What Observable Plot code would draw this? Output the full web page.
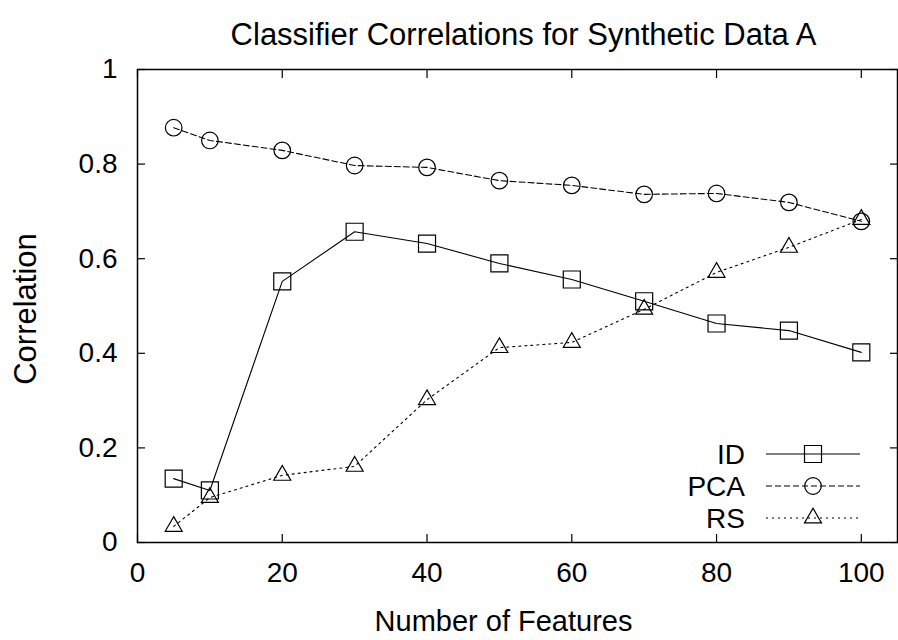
<!DOCTYPE html>
<html>
<head>
<meta charset="utf-8">
<script src="https://cdn.jsdelivr.net/npm/d3@7"></script>
<script src="https://cdn.jsdelivr.net/npm/@observablehq/plot@0.6"></script>
<style>
  body { margin: 0; background: #fff; }
  #chart { width: 898px; height: 640px; }
</style>
</head>
<body>
<div id="chart"></div>
<script>
// ---- data ----
const features = [5, 10, 20, 30, 40, 50, 60, 70, 80, 90, 100];
const idValues  = [0.135, 0.110, 0.552, 0.657, 0.632, 0.590, 0.556, 0.510, 0.463, 0.448, 0.402];
const pcaValues = [0.877, 0.850, 0.829, 0.797, 0.793, 0.765, 0.755, 0.736, 0.738, 0.719, 0.679];
const rsValues  = [0.034, 0.095, 0.142, 0.161, 0.302, 0.412, 0.423, 0.493, 0.571, 0.624, 0.683];
const seriesNames = ["ID", "PCA", "RS"];
const xTicks = [0, 20, 40, 60, 80, 100];
const yTicks = [0, 0.2, 0.4, 0.6, 0.8, 1];
const titleText = "Classifier Correlations for Synthetic Data A";
const xLabel = "Number of Features";
const yLabel = "Correlation";

// ---- styles ----
const FONT = "'Liberation Sans', Arial, Helvetica, sans-serif";
const styles = {
  ID:  {symbol: "square",   d3symbol: d3.symbolSquare,   r: 9.6, dash: null},
  PCA: {symbol: "circle",   d3symbol: d3.symbolCircle,   r: 8.3, dash: "6,3"},
  RS:  {symbol: "triangle", d3symbol: d3.symbolTriangle, r: 6.3, dash: "2,4"}
};

const valuesBySeries = {ID: idValues, PCA: pcaValues, RS: rsValues};
const rows = seriesNames.flatMap(s => features.map((f, i) => ({series: s, x: f, y: valuesBySeries[s][i]})));

function legendMark(index, scales, values, dims) {
  const g = d3.create("svg:g")
    .attr("font-family", FONT)
    .attr("font-size", 28)
    .attr("fill", "#000");
  const right = dims.width - dims.marginRight;
  const bottom = dims.height - dims.marginBottom;
  seriesNames.forEach((s, i) => {
    const st = styles[s];
    const cy = bottom - 88 + i * 32;
    g.append("text")
      .attr("x", right - 152).attr("y", cy)
      .attr("text-anchor", "end").attr("dy", "0.36em")
      .text(s);
    g.append("line")
      .attr("x1", right - 131).attr("x2", right - 37)
      .attr("y1", cy).attr("y2", cy)
      .attr("stroke", "#000").attr("stroke-width", 1.2)
      .attr("stroke-dasharray", st.dash);
    g.append("path")
      .attr("transform", `translate(${right - 84},${cy})`)
      .attr("d", d3.symbol(st.d3symbol, Math.PI * st.r * st.r)())
      .attr("fill", "none").attr("stroke", "#000").attr("stroke-width", 1.2);
  });
  return g.node();
}

const marks = [
  Plot.axisX(xTicks, {anchor: "bottom", tickSize: 0, tickPadding: 20, fontSize: 28, label: null, tickFormat: d => String(d)}),
  Plot.axisX(xTicks, {anchor: "bottom", tickSize: -8, text: null, label: null, strokeWidth: 1.2}),
  Plot.axisX(xTicks, {anchor: "top", tickSize: -8, text: null, label: null, strokeWidth: 1.2}),
  Plot.axisY(yTicks, {anchor: "left", tickSize: 0, tickPadding: 20, fontSize: 28, label: null, tickFormat: d => String(d)}),
  Plot.axisY(yTicks, {anchor: "left", tickSize: -8, text: null, label: null, strokeWidth: 1.2}),
  Plot.axisY(yTicks, {anchor: "right", tickSize: -8, text: null, label: null, strokeWidth: 1.2}),
  Plot.frame({stroke: "#000", strokeWidth: 1.5})
];
for (const s of seriesNames) {
  const st = styles[s];
  const data = rows.filter(d => d.series === s);
  marks.push(Plot.line(data, {x: "x", y: "y", stroke: "#000", strokeWidth: 1.1, strokeDasharray: st.dash}));
  marks.push(Plot.dot(data, {x: "x", y: "y", symbol: () => st.symbol, r: st.r, stroke: "#000", strokeWidth: 1.2, fill: "none"}));
}
marks.push(Plot.text([titleText], {frameAnchor: "top", dy: -34, dx: 6, fontSize: 31, lineAnchor: "middle", textAnchor: "middle", fill: "#000", fontFamily: FONT}));
marks.push(Plot.text([xLabel], {frameAnchor: "bottom", dy: 79, dx: -14, fontSize: 29, lineAnchor: "middle", textAnchor: "middle", fill: "#000", fontFamily: FONT}));
marks.push(Plot.text([yLabel], {frameAnchor: "left", dx: -111, dy: 3, rotate: -90, fontSize: 31, lineAnchor: "middle", textAnchor: "middle", fill: "#000", fontFamily: FONT}));
marks.push(legendMark);

const chart = Plot.plot({
  width: 898,
  height: 640,
  marginTop: 69,
  marginLeft: 137,
  marginRight: 1,
  marginBottom: 98,
  style: {fontFamily: FONT, fontSize: "28px", color: "#000", background: "#fff"},
  x: {domain: [0, 105]},
  y: {domain: [0, 1]},
  symbol: {type: "identity"},
  marks
});
document.getElementById("chart").append(chart);
</script>
</body>
</html>
